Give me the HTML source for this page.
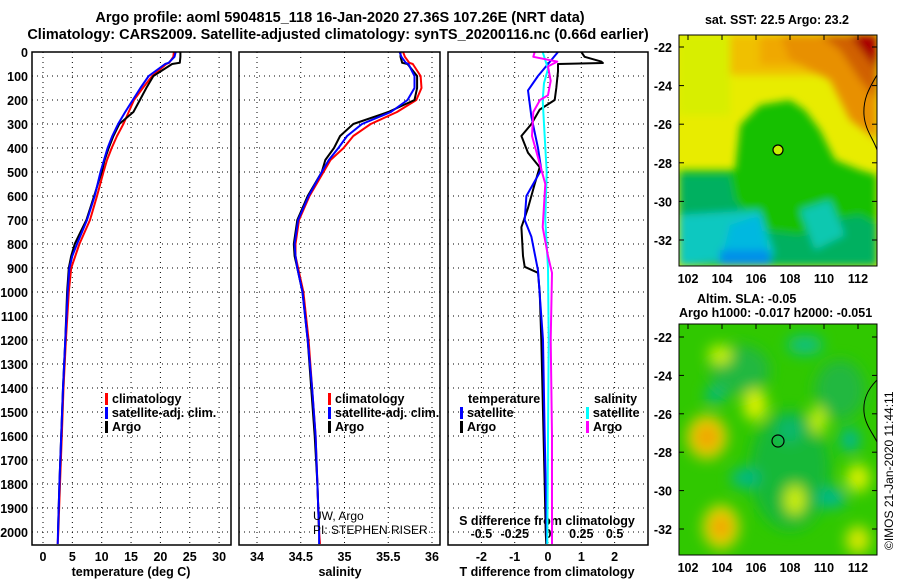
<!DOCTYPE html>
<html><head><meta charset="utf-8"><style>
html,body{margin:0;padding:0;background:#fff;}
svg{display:block;font-family:"Liberation Sans",sans-serif;}
.b{font-weight:bold;font-size:12.5px;}
.t{font-weight:bold;font-size:14.5px;}
</style></head><body>
<svg id="c" width="900" height="580" viewBox="0 0 900 580">
<defs>
<filter id="bl" x="-10%" y="-10%" width="120%" height="120%"><feGaussianBlur stdDeviation="4"/></filter>
<filter id="bl2" x="-20%" y="-20%" width="140%" height="140%"><feGaussianBlur stdDeviation="7"/></filter>
<clipPath id="cm1"><rect x="679" y="35" width="198" height="231"/></clipPath>
<clipPath id="cm2"><rect x="679" y="324" width="198" height="231"/></clipPath>
</defs>
<text class="t" x="340" y="22" text-anchor="middle">Argo profile: aoml 5904815_118 16-Jan-2020 27.36S 107.26E (NRT data)</text>
<text class="t" x="338" y="39" text-anchor="middle">Climatology: CARS2009. Satellite-adjusted climatology: synTS_20200116.nc (0.66d earlier)</text>

<!-- SST map -->
<g clip-path="url(#cm1)">
<rect x="679" y="35" width="198" height="231" fill="#e8ec00"/>
<g filter="url(#bl)">
<rect x="730" y="35" width="147" height="40" fill="#f0c000"/>
<rect x="679" y="35" width="51" height="80" fill="#d8ee00"/>
<rect x="760" y="35" width="117" height="30" fill="#f0a800"/>
<polygon points="780,35 877,35 877,140 850,120 830,80 790,60" fill="#e89000"/>
<polygon points="820,35 877,35 877,100 860,80 840,50" fill="#d06000"/>
<polygon points="850,35 877,35 877,70 865,55" fill="#a80000"/>
<polygon points="679,170 735,170 740,125 760,105 790,100 805,110 820,130 835,160 860,170 877,175 877,266 679,266" fill="#18c000"/>
<polygon points="679,175 730,175 735,200 760,230 800,235 830,220 860,215 877,225 877,266 679,266" fill="#00b060"/>
<polygon points="679,215 760,210 775,255 679,266" fill="#10c8c0"/>
<polygon points="730,225 760,215 770,266 720,266" fill="#00b8e0"/>
<polygon points="800,210 830,200 845,235 815,250" fill="#10c8b0"/>
<rect x="720" y="250" width="50" height="16" fill="#0090e8"/>
</g>
<path d="M877,75 C868,90 863,100 864,115 C865,130 874,140 877,150" fill="none" stroke="#000" stroke-width="1"/>
</g>
<rect x="679" y="35" width="198" height="231" fill="none" stroke="#000"/>
<circle cx="778" cy="150" r="5" fill="#c8f000" stroke="#000" stroke-width="1.2"/>
<text class="b" x="777" y="24" text-anchor="middle">sat. SST: 22.5 Argo: 23.2</text>
<text class="b" x="697" y="303">Altim. SLA: -0.05</text>
<text class="b" x="679" y="317">Argo h1000: -0.017 h2000: -0.051</text>

<!-- SLA map -->
<g clip-path="url(#cm2)">
<rect x="679" y="324" width="198" height="231" fill="#30c800"/>
<g filter="url(#bl2)">
<ellipse cx="790" cy="470" rx="40" ry="60" fill="#18b838"/>
<ellipse cx="740" cy="370" rx="30" ry="25" fill="#20b840"/>
<ellipse cx="840" cy="390" rx="25" ry="30" fill="#20b840"/>
<ellipse cx="707" cy="437" rx="20" ry="22" fill="#e8d000"/>
<ellipse cx="707" cy="437" rx="11" ry="12" fill="#f0a000"/>
<ellipse cx="721" cy="527" rx="18" ry="22" fill="#e8d800"/>
<ellipse cx="721" cy="527" rx="10" ry="12" fill="#f0a000"/>
<ellipse cx="755" cy="405" rx="12" ry="16" fill="#d8f000"/>
<ellipse cx="795" cy="500" rx="10" ry="15" fill="#d0f000"/>
<ellipse cx="858" cy="478" rx="12" ry="14" fill="#d8f000"/>
<ellipse cx="858" cy="540" rx="12" ry="14" fill="#d8e800"/>
<ellipse cx="818" cy="420" rx="8" ry="14" fill="#c8f000"/>
<ellipse cx="720" cy="355" rx="12" ry="10" fill="#c8f000"/>
<ellipse cx="715" cy="395" rx="10" ry="8" fill="#00b888"/>
<ellipse cx="745" cy="478" rx="14" ry="10" fill="#00b888"/>
<ellipse cx="832" cy="498" rx="14" ry="10" fill="#00b890"/>
<ellipse cx="850" cy="440" rx="10" ry="12" fill="#00b890"/>
<ellipse cx="790" cy="430" rx="12" ry="12" fill="#10b870"/>
<ellipse cx="805" cy="345" rx="18" ry="10" fill="#10c080"/>
</g>
<path d="M877,380 C867,390 863,400 864,412 C865,425 874,435 877,442" fill="none" stroke="#000" stroke-width="1"/>
</g>
<rect x="679" y="324" width="198" height="231" fill="none" stroke="#000"/>
<circle cx="778" cy="441" r="6" fill="none" stroke="#000" stroke-width="1.2"/>
<text x="893" y="550" transform="rotate(-90 893 550)" font-size="12">©IMOS 21-Jan-2020 11:44:11</text>

<g id="plots"></g>
</svg>
<script>
// depth levels (dbar)
const depths=[0,20,45,50,100,150,200,250,300,350,400,450,500,600,700,800,850,900,1000,1200,1400,1600,1800,2000,2050];
const tempClim=[22.3,22.2,21.5,21.0,18.6,17.0,15.5,14.6,13.7,12.6,11.7,10.9,10.3,9.2,8.0,6.2,5.5,4.8,4.4,3.9,3.5,3.2,2.9,2.6,2.5];
const tempSat=[22.6,22.4,21.4,20.8,18.0,16.6,15.3,14.0,12.8,11.8,11.0,10.4,9.8,8.8,7.5,5.8,5.0,4.5,4.2,3.8,3.4,3.1,2.8,2.55,2.5];
const tempArgo=[23.4,23.4,23.3,22.0,18.8,17.6,16.5,15.4,13.0,12.0,11.2,10.5,10.0,8.7,7.4,5.4,4.8,4.4,4.1,3.8,3.4,3.1,2.8,2.55];
const salClim=[35.67,35.69,35.74,35.78,35.87,35.88,35.82,35.6,35.3,35.1,34.99,34.84,34.76,34.6,34.48,34.44,34.44,34.47,34.53,34.59,34.63,34.67,34.69,34.71,34.72];
const salSat=[35.63,35.65,35.7,35.73,35.8,35.8,35.72,35.53,35.2,35.03,34.93,34.82,34.74,34.59,34.47,34.43,34.44,34.46,34.52,34.58,34.63,34.67,34.69,34.71,34.71];
const salArgo=[35.64,35.64,35.66,35.72,35.83,35.83,35.8,35.5,35.1,34.95,34.88,34.78,34.74,34.58,34.46,34.42,34.43,34.46,34.52,34.58,34.62,34.66,34.69,34.71];
// difference profiles
const dTdepths=[0,20,40,46,50,80,150,200,240,300,350,420,480,550,650,730,850,895,920,1000,1200,1500,1800,2000,2050];
const dTArgo=[1.0,1.1,1.6,1.65,0.3,0.3,0.25,0.2,-0.25,-0.5,-0.8,-0.6,-0.25,-0.4,-0.6,-0.8,-0.75,-0.7,-0.3,-0.25,-0.2,-0.15,-0.1,-0.07,-0.05];
const dTSatDepths=[0,50,100,160,270,400,490,600,700,770,910,1200,1600,2050];
const dTSat=[0.3,0,-0.3,-0.6,-0.5,-0.3,-0.2,-0.65,-0.7,-0.5,-0.3,-0.15,-0.1,-0.03];
const dSSatDepths=[0,70,130,200,300,500,700,900,1200,1600,2050];
const dSSat=[-0.04,0,-0.03,-0.04,-0.03,-0.01,-0.02,0,0.005,0,-0.005];
const dSArgoDepths=[0,20,40,60,120,180,200,250,350,450,550,730,850,920,1200,1600,2050];
const dSArgo=[-0.1,-0.11,0.07,0,0.02,0,-0.06,-0.11,-0.12,-0.07,-0.02,-0.04,0,0.03,0.02,0.03,0.03];
const depthTicks=[0,100,200,300,400,500,600,700,800,900,1000,1100,1200,1300,1400,1500,1600,1700,1800,1900,2000];
const tempTicks=[0,5,10,15,20,25,30];
const salTicks=[34,34.5,35,35.5,36];
const salTickLabels=["34","34.5","35","35.5","36"];
const dTTicks=[-2,-1,0,1,2];
const dSTicks=[-0.5,-0.25,0,0.25,0.5];
const dSTickLabels=["-0.5","-0.25","0","0.25","0.5"];
const mapLats=[-22,-24,-26,-28,-30,-32];
const mapLons=[102,104,106,108,110,112];

const NS='http://www.w3.org/2000/svg';
const G=document.getElementById('plots');
function mk(tag,at,parent){const e=document.createElementNS(NS,tag);for(const k in at)e.setAttribute(k,at[k]);(parent||G).appendChild(e);return e;}
const yD=d=>52+d*0.24;
const xT=t=>43+t*5.87;
const xS=s=>257+(s-34)*87.5;
const xDT=t=>548+t*33.3;
const xDS=s=>548+s*133.2;
const panels=[[32,231],[239,440],[448,648]];

panels.forEach((p,i)=>{
  depthTicks.forEach(d=>{
    const l=mk('line',{x1:p[0],x2:p[1],y1:yD(d),y2:yD(d),stroke:'#000','stroke-width':1,'stroke-dasharray':'1,4'});
    
    
  });
});
function vgrid(vals,fx,name){vals.forEach(v=>{const l=mk('line',{x1:fx(v),x2:fx(v),y1:52,y2:545,stroke:'#000','stroke-width':1,'stroke-dasharray':'1,4'});
  
  });}
vgrid(tempTicks,xT,'temperature-gridline');
vgrid(salTicks,xS,'salinity-gridline');
vgrid(dTTicks,xDT,'t-difference-gridline');

function txt(s,x,y,anchor,cls,name){const e=mk('text',{x:x,y:y,'text-anchor':anchor||'start','class':cls||'b'});e.textContent=s;
  
  return e;}
depthTicks.forEach(d=>txt(String(d),28,yD(d)+5,'end','b','depth-tick-label'));
tempTicks.forEach(t=>txt(String(t),xT(t),561,'middle','b','temperature-tick-label'));
salTicks.forEach((s,i)=>txt(salTickLabels[i],xS(s),561,'middle','b','salinity-tick-label'));
dTTicks.forEach(t=>txt(String(t),xDT(t),561,'middle','b','t-difference-tick-label'));
dSTicks.forEach((s,i)=>txt(dSTickLabels[i],xDS(s),538,'middle','b','s-difference-tick-label'));
txt('temperature (deg C)',131,576,'middle','b','temperature-axis-title');
txt('salinity',340,576,'middle','b','salinity-axis-title');
txt('T difference from climatology',547,576,'middle','b','t-difference-axis-title');
txt('S difference from climatology',547,525,'middle','b','s-difference-axis-title');

function prof(ds,vs,fx,col,name){const n=Math.min(ds.length,vs.length);let pts=[];for(let i=0;i<n;i++)pts.push(fx(vs[i]).toFixed(1)+','+yD(ds[i]).toFixed(1));
  const e=mk('polyline',{points:pts.join(' '),fill:'none',stroke:col,'stroke-width':2,'stroke-linejoin':'round'});
  
  }
prof(depths,tempClim,xT,'#ff0000','temperature-climatology-line');
prof(depths,tempArgo,xT,'#000','temperature-argo-line');
prof(depths,tempSat,xT,'#0000ff','temperature-satellite-line');
prof(depths,salClim,xS,'#ff0000','salinity-climatology-line');
prof(depths,salArgo,xS,'#000','salinity-argo-line');
prof(depths,salSat,xS,'#0000ff','salinity-satellite-line');
prof(dTdepths,dTArgo,xDT,'#000','t-difference-argo-line');
prof(dTSatDepths,dTSat,xDT,'#0000ff','t-difference-satellite-line');
prof(dSSatDepths,dSSat,xDS,'#00ffff','s-difference-satellite-line');
prof(dSArgoDepths,dSArgo,xDS,'#ff00ff','s-difference-argo-line');

panels.forEach(p=>{const r=mk('rect',{x:p[0],y:52,width:p[1]-p[0],height:493,fill:'none',stroke:'#000','stroke-width':1.5});
  
  });

function leg(x,y,col,label,name){const r=mk('rect',{x:x,y:y-10,width:3,height:12,fill:col});
  
  
  txt(label,x+7,y,'start','b',name);}
leg(105,403,'#ff0000','climatology','legend-temp-climatology');
leg(105,417,'#0000ff','satellite-adj. clim.','legend-temp-satellite');
leg(105,431,'#000','Argo','legend-temp-argo');
leg(328,403,'#ff0000','climatology','legend-sal-climatology');
leg(328,417,'#0000ff','satellite-adj. clim.','legend-sal-satellite');
leg(328,431,'#000','Argo','legend-sal-argo');
txt('temperature',468,403,'start','b','legend-diff-temperature-header');
leg(460,417,'#0000ff','satellite','legend-dt-satellite');
leg(460,431,'#000','Argo','legend-dt-argo');
txt('salinity',594,403,'start','b','legend-diff-salinity-header');
leg(586,417,'#00ffff','satellite','legend-ds-satellite');
leg(586,431,'#ff00ff','Argo','legend-ds-argo');
const u1=mk('text',{x:313,y:520,'font-size':12});u1.textContent='UW, Argo';


const u2=mk('text',{x:313,y:534,'font-size':12});u2.textContent='PI: STEPHEN RISER';



// map axes
const xLon=l=>688+(l-102)*17;
function mapAxes(top,bottom,yLat0,step,name){
  mapLats.forEach((la,i)=>{const y=yLat0+i*step;
    txt(String(la),672,y+5,'end','b',name+'-lat-label');
    const t=mk('line',{x1:679,x2:684,y1:y,y2:y,stroke:'#000'});
    
    
    const t2=mk('line',{x1:872,x2:877,y1:y,y2:y,stroke:'#000'});
    
    });
  mapLons.forEach(lo=>{txt(String(lo),xLon(lo),bottom+17,'middle','b',name+'-lon-label');
    const t=mk('line',{x1:xLon(lo),x2:xLon(lo),y1:top,y2:top+5,stroke:'#000'});
    
    });
}
mapAxes(35,266,47,38.6,'sst-map');
mapAxes(324,555,337,38.4,'sla-map');
</script>
</body></html>
